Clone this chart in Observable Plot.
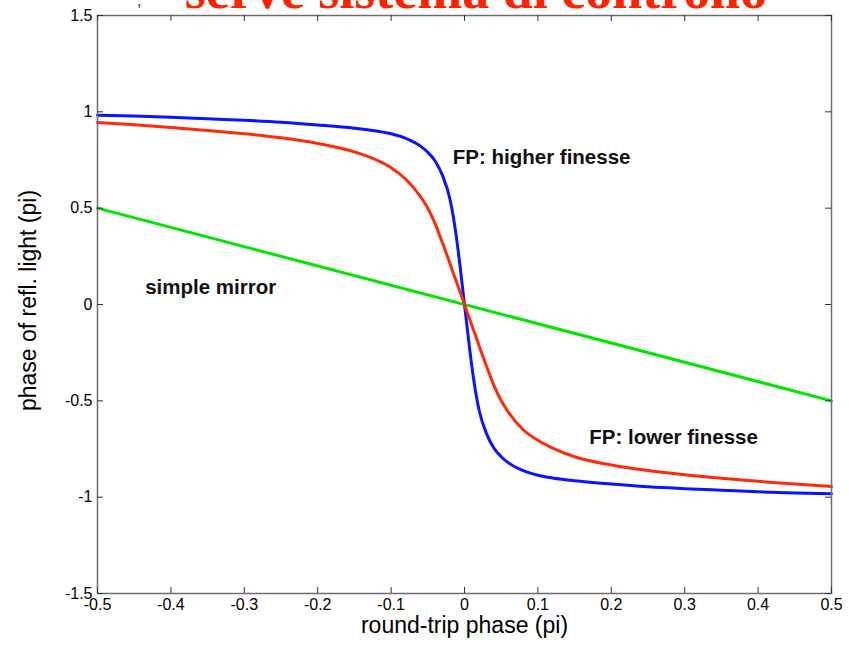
<!DOCTYPE html>
<html><head><meta charset="utf-8">
<script src="https://cdn.jsdelivr.net/npm/d3@7"></script>
<script src="https://cdn.jsdelivr.net/npm/@observablehq/plot@0.6"></script>
<style>
body{margin:0;background:#fff;}
#wrap{position:relative;width:849px;height:645px;overflow:hidden;background:#fff;}
#chart{position:absolute;left:0;top:0;}
#overlay{position:absolute;left:0;top:0;pointer-events:none;}
</style></head>
<body>
<div id="wrap"><div id="chart"></div>
<svg id="overlay" width="849" height="40">
  <text x="137" y="6" font-family="Liberation Sans, Arial, sans-serif" font-size="16" fill="#222">,</text>
  <text x="476" y="8" text-anchor="middle" font-family="Liberation Serif, Times New Roman, serif" font-weight="bold" font-size="54" fill="#ff2200">serve sistema di controllo</text>
</svg>
</div>
<script>
// round-trip phase (pi) sample positions
const phaseX = [-0.5,-0.45,-0.4,-0.35,-0.3,-0.25,-0.2,-0.15,-0.12,-0.1,-0.08,-0.06,-0.05,-0.04,-0.03,-0.02,-0.015,-0.01,-0.005,0,
                0.005,0.01,0.015,0.02,0.03,0.04,0.05,0.06,0.08,0.1,0.12,0.15,0.2,0.25,0.3,0.35,0.4,0.45,0.5];
// FP: higher finesse (blue)
const highFinesse = [0.982,0.978,0.972,0.964,0.956,0.946,0.932,0.915,0.9,0.886,0.862,0.822,0.79,0.745,0.67,0.55,0.45,0.32,0.165,0,
                     -0.165,-0.32,-0.45,-0.55,-0.67,-0.745,-0.79,-0.822,-0.862,-0.886,-0.9,-0.915,-0.932,-0.946,-0.956,-0.964,-0.972,-0.978,-0.982];
// FP: lower finesse (red)
const lowFinesse = [0.945,0.933,0.919,0.903,0.886,0.865,0.836,0.792,0.75,0.71,0.65,0.56,0.5,0.42,0.32,0.215,0.16,0.108,0.054,0,
                    -0.054,-0.108,-0.16,-0.215,-0.32,-0.42,-0.5,-0.56,-0.65,-0.705,-0.745,-0.79,-0.833,-0.862,-0.884,-0.902,-0.918,-0.932,-0.945];
// simple mirror (green)
const mirrorX = [-0.5, 0.5];
const mirrorY = [0.5, -0.5];

const xTicks = [-0.5,-0.4,-0.3,-0.2,-0.1,0,0.1,0.2,0.3,0.4,0.5];
const yTicks = [-1.5,-1,-0.5,0,0.5,1,1.5];

const labelText = ["FP: higher finesse","FP: lower finesse","simple mirror"];
const labelX = [-0.016, 0.17, -0.435];
const labelY = [0.763, -0.69, 0.088];

const xTitle = "round-trip phase (pi)";
const yTitle = "phase of refl. light (pi)";

const blueData = phaseX.map((x,i)=>({x, y: highFinesse[i]}));
const redData = phaseX.map((x,i)=>({x, y: lowFinesse[i]}));
const greenData = mirrorX.map((x,i)=>({x, y: mirrorY[i]}));
const labels = labelText.map((t,i)=>({t, x: labelX[i], y: labelY[i]}));

const W = 849, H = 645, mL = 97, mR = 18, mT = 15, mB = 52;
const innerW = W - mL - mR, innerH = H - mT - mB, tk = 6;
const fmt = d => String(+d.toFixed(2));
const font = "Liberation Sans, Arial, Helvetica, sans-serif";

const chart = Plot.plot({
  width: W, height: H,
  marginLeft: mL, marginRight: mR, marginTop: mT, marginBottom: mB,
  style: {fontFamily: font, background: "#fff", color: "#000"},
  x: {domain: [-0.5, 0.5]},
  y: {domain: [-1.5, 1.5]},
  marks: [
    Plot.line(greenData, {x: "x", y: "y", stroke: "#00e600", strokeWidth: 3}),
    Plot.line(blueData, {x: "x", y: "y", stroke: "#0a14ff", strokeWidth: 3, curve: "monotone-x"}),
    Plot.line(redData, {x: "x", y: "y", stroke: "#ff2a0a", strokeWidth: 3, curve: "monotone-x"}),
    Plot.frame({stroke: "#6e6e6e", strokeWidth: 1.5}),
    Plot.tickX(xTicks, {x: d => d, insetTop: innerH - tk, stroke: "#333"}),
    Plot.tickX(xTicks, {x: d => d, insetBottom: innerH - tk, stroke: "#333"}),
    Plot.tickY(yTicks, {y: d => d, insetRight: innerW - tk, stroke: "#333"}),
    Plot.tickY(yTicks, {y: d => d, insetLeft: innerW - tk, stroke: "#333"}),
    Plot.axisX(xTicks, {tickSize: 0, tickPadding: 5, tickFormat: fmt, fontSize: 16, label: null, fill: "#000"}),
    Plot.axisY(yTicks, {tickSize: 0, tickPadding: 5, tickFormat: fmt, fontSize: 16, label: null, fill: "#000"}),
    Plot.text([xTitle], {text: d => d, frameAnchor: "bottom", dy: 39, fontSize: 23, fill: "#000"}),
    Plot.text([yTitle], {text: d => d, frameAnchor: "left", textAnchor: "middle", dx: -69, dy: -4, rotate: -90, fontSize: 23, fill: "#000"}),
    Plot.text(labels, {x: "x", y: "y", text: "t", textAnchor: "start", fontWeight: "bold", fontSize: 20.5, fill: "#111"})
  ]
});
document.getElementById("chart").appendChild(chart);
</script>
</body></html>
